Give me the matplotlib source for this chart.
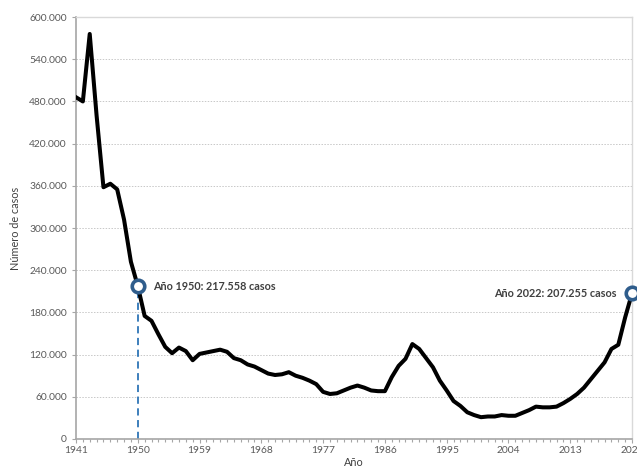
import numpy as np
import matplotlib.pyplot as plt
from matplotlib.ticker import FuncFormatter, MultipleLocator

plt.rcParams['font.family'] = ['Lato', 'DejaVu Sans']

years = list(range(1941, 2023))
cases = [
    486000, 480000, 576000, 460000, 358000, 363000, 355000, 312000, 252000, 217558,
    175000, 168000, 149000, 131000, 122000, 130000, 125000, 112000, 121000, 123000,
    125000, 127000, 124000, 115000, 112000, 106000, 103000, 98000, 93000, 91000,
    92000, 95000, 90000, 87000, 83000, 78000, 67000, 64000, 65000, 69000,
    73000, 76000, 73000, 69000, 68000, 68000, 88000, 104000, 114000, 135000,
    128000, 115000, 102000, 83000, 69000, 54000, 47000, 38000, 34000, 31000,
    32000, 32000, 34000, 33000, 33000, 37000, 41000, 46000, 45000, 45000,
    46000, 51000, 57000, 64000, 73000, 85000, 97000, 109000, 128000, 134000,
    173000, 207255,
]

label_years = list(range(1941, 2023, 9))
highlight = {1950: "Año 1950: 217.558 casos", 2022: "Año 2022: 207.255 casos"}


def miles(v, pos):
    return "{:,.0f}".format(v).replace(",", ".")


def main():
    fig = plt.figure(figsize=(6.37, 4.68), dpi=100)
    ax = fig.add_axes([0.1193, 0.062, 0.8729, 0.9015])

    ax.plot(years, cases, color="black", lw=2.9, solid_joinstyle="round", zorder=3)

    # dashed guide at 1950
    v1950 = cases[years.index(1950)]
    ax.plot([1950, 1950], [0, v1950], color="#2E75B6", lw=1.3, ls=(0, (4, 2.5)), zorder=2)

    for yr, txt in highlight.items():
        v = cases[years.index(yr)]
        ax.plot(yr, v, "o", ms=9, mfc="white", mec="#2F5D8C", mew=2.6, zorder=5, clip_on=False)
        if yr == 1950:
            ax.annotate(txt, (yr, v), xytext=(11, 0), textcoords="offset points",
                        ha="left", va="center", fontsize=7.8, fontweight="bold", color="#404040")
        else:
            ax.annotate(txt, (yr, v), xytext=(-11, 0), textcoords="offset points",
                        ha="right", va="center", fontsize=7.8, fontweight="bold", color="#404040")

    ax.set_xlim(1941, 2022)
    ax.set_ylim(0, 600000)
    ax.set_yticks(np.arange(0, 600001, 60000))
    ax.yaxis.set_major_formatter(FuncFormatter(miles))
    ax.set_xticks(label_years)
    ax.xaxis.set_minor_locator(MultipleLocator(1))

    ax.grid(axis="y", color="#C8C8C8", ls=(0, (1.5, 1.5)), lw=0.7)
    ax.set_axisbelow(True)

    for side in ["left", "bottom"]:
        ax.spines[side].set_color("#A6A6A6")
        ax.spines[side].set_linewidth(1.2)
    for side in ["top", "right"]:
        ax.spines[side].set_color("#D9D9D9")
        ax.spines[side].set_linewidth(1.0)

    ax.tick_params(axis="both", which="both", colors="#A6A6A6", labelcolor="#595959",
                   labelsize=7.4, length=3, width=0.8)
    ax.tick_params(axis="x", which="minor", length=2.5)
    ax.tick_params(axis="x", pad=2)

    ax.set_ylabel("Número de casos", fontsize=7.8, color="#404040", labelpad=6)
    ax.set_xlabel("Año", fontsize=7.8, color="#404040", labelpad=1.5)

    fig.savefig("out.png", dpi=100)


if __name__ == "__main__":
    main()
